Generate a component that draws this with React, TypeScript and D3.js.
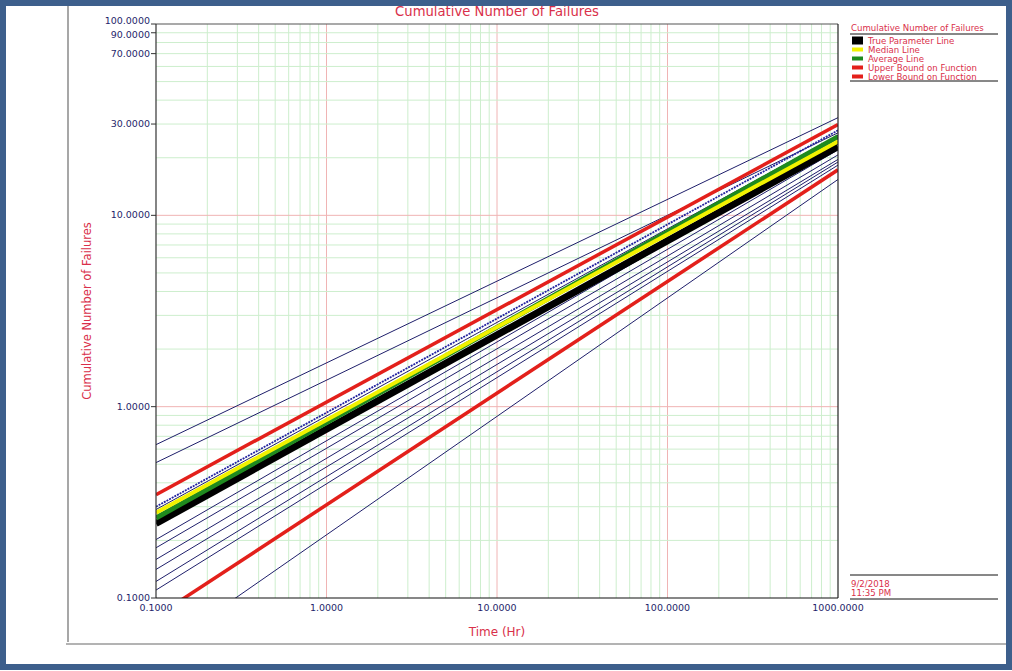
import React from 'react';
import * as d3 from 'd3';

// time (Hr) at the two ends of every fitted line
const timeEnds = [0.1, 1000];

// cumulative failures at t = 0.1 and t = 1000
const trueParameterLine = [0.245, 22.9];
const medianLine = [0.279, 24.3];
const averageLine = [0.262, 25.8];
const upperBound = [0.347, 29.8];
const lowerBound = [0.08, 17.3];

// simulated data sets (thin blue lines)
const simulatedLines = [
  [0.633, 32.4],
  [0.51, 27.0],
  [0.3, 27.8],
  [0.29, 26.2],
  [0.202, 23.5],
  [0.183, 22.0],
  [0.159, 20.7],
  [0.141, 19.6],
  [0.122, 19.0],
  [0.11, 18.3],
  [0.0514, 15.4],
];

const xTickValues = [0.1, 1, 10, 100, 1000];
const yTickValues = [0.1, 1, 10, 30, 70, 90, 100];

const legendLabels = [
  'True Parameter Line',
  'Median Line',
  'Average Line',
  'Upper Bound on Function',
  'Lower Bound on Function',
];
const legendColors = ['#000000', '#f2f200', '#1f8a1f', '#e3201b', '#e3201b'];

const W = 1012;
const H = 671;
const margin = { left: 156, right: 838, top: 24, bottom: 598 };
const font = '"DejaVu Sans", Verdana, sans-serif';
const red = '#d9304a';
const navy = '#1f1f6b';

export default function App() {
  const x = d3.scaleLog().domain([0.1, 1000]).range([margin.left, margin.right]);
  const y = d3.scaleLog().domain([0.1, 100]).range([margin.bottom, margin.top]);

  const line = d3
    .line<[number, number]>()
    .x(d => x(d[0]))
    .y(d => y(d[1]));
  const path = (vals: number[]) => line(timeEnds.map((t, i) => [t, vals[i]] as [number, number])) || '';

  // grid: all 1..9 multiples inside each decade
  const xGrid = x.ticks(50).filter(v => v > 0.1 && v < 1000);
  const yGrid = y.ticks(50).filter(v => v > 0.1 && v < 100);
  const isDecade = (v: number) => Math.abs(Math.log10(v) - Math.round(Math.log10(v))) < 1e-6;

  const thick = [
    { vals: upperBound, color: legendColors[3], w: 3.5 },
    { vals: lowerBound, color: legendColors[4], w: 3.5 },
    { vals: trueParameterLine, color: legendColors[0], w: 7 },
    { vals: averageLine, color: legendColors[2], w: 5 },
    { vals: medianLine, color: legendColors[1], w: 4 },
  ];

  // the 100 and 90 labels sit very close; nudge them apart like the original
  const labelShift = (v: number) => (v === 100 ? -3 : v === 90 ? 2 : 0);

  return (
    <svg
      width={W}
      height={H}
      style={{ position: 'absolute', left: 0, top: 0, background: '#fff' }}
      fontFamily={font}
    >
      <defs>
        <clipPath id="plot">
          <rect x={margin.left} y={margin.top} width={margin.right - margin.left} height={margin.bottom - margin.top} />
        </clipPath>
      </defs>

      {/* inner frame lines */}
      <line x1={68} x2={68} y1={6} y2={642} stroke="#8a8a8a" strokeWidth={1.5} />
      <line x1={66} x2={1006} y1={644} y2={644} stroke="#9a9a9a" strokeWidth={1.5} />

      {/* grid */}
      {xGrid.map(v => (
        <line key={'gx' + v} x1={x(v)} x2={x(v)} y1={margin.top} y2={margin.bottom}
          stroke={isDecade(v) ? '#f0b4b4' : '#cdeecd'} strokeWidth={1} />
      ))}
      {yGrid.map(v => (
        <line key={'gy' + v} x1={margin.left} x2={margin.right} y1={y(v)} y2={y(v)}
          stroke={isDecade(v) ? '#f0b4b4' : '#cdeecd'} strokeWidth={1} />
      ))}

      {/* lines */}
      <g clipPath="url(#plot)" fill="none" strokeLinecap="butt">
        {simulatedLines.map((vals, i) => (
          <path key={'s' + i} d={path(vals)} stroke={i === 2 ? '#2323a0' : navy} strokeWidth={i === 2 ? 1.8 : 1}
            strokeDasharray={i === 2 ? '2 1' : undefined} />
        ))}
        {thick.map((s, i) => (
          <path key={'t' + i} d={path(s.vals)} stroke={s.color} strokeWidth={s.w} />
        ))}
      </g>

      {/* plot frame */}
      <line x1={margin.left} x2={margin.right} y1={margin.top} y2={margin.top} stroke="#555" strokeWidth={1.2} />
      <line x1={margin.right} x2={margin.right} y1={margin.top} y2={margin.bottom} stroke="#222" strokeWidth={1.2} />
      <line x1={margin.left} x2={margin.left} y1={margin.top} y2={margin.bottom} stroke="#333" strokeWidth={1.2} />
      <line x1={margin.left} x2={margin.right} y1={margin.bottom} y2={margin.bottom} stroke="#111" strokeWidth={1.2} />

      {/* y ticks */}
      {yTickValues.map(v => (
        <g key={'yt' + v}>
          <line x1={margin.left - 5} x2={margin.left} y1={y(v)} y2={y(v)} stroke="#333" />
          <text x={margin.left - 6} y={y(v) + labelShift(v)} dy="0.32em" textAnchor="end" fontSize={9.5} fill={navy}>
            {v.toFixed(4)}
          </text>
        </g>
      ))}

      {/* x ticks */}
      {xTickValues.map(v => (
        <text key={'xt' + v} x={x(v)} y={margin.bottom + 13} textAnchor="middle" fontSize={9.5} fill={navy}>
          {v.toFixed(4)}
        </text>
      ))}

      {/* axis titles */}
      <text x={(margin.left + margin.right) / 2} y={636} textAnchor="middle" fontSize={12} fill={red}>
        Time (Hr)
      </text>
      <text transform={`translate(91,${(margin.top + margin.bottom) / 2}) rotate(-90)`} textAnchor="middle" fontSize={11.5} fill={red}>
        Cumulative Number of Failures
      </text>
      <text x={(margin.left + margin.right) / 2} y={16} textAnchor="middle" fontSize={13.2} fill={red}>
        Cumulative Number of Failures
      </text>

      {/* legend */}
      <text x={851} y={31} fontSize={8.6} fill={red}>Cumulative Number of Failures</text>
      <line x1={850} x2={998} y1={34} y2={34} stroke="#111" />
      {legendLabels.map((label, i) => {
        const cy = 40.5 + i * 9;
        const h = i === 0 ? 8 : 4;
        return (
          <g key={label}>
            <rect x={852} y={cy - h / 2} width={11} height={h} fill={legendColors[i]} />
            <text x={868} y={cy + 3.2} fontSize={8.6} fill={red}>{label}</text>
          </g>
        );
      })}
      <line x1={850} x2={998} y1={81} y2={81} stroke="#111" />

      {/* date stamp */}
      <line x1={850} x2={998} y1={575} y2={575} stroke="#111" />
      <text x={851} y={587} fontSize={8.6} fill={red}>9/2/2018</text>
      <text x={851} y={596} fontSize={8.6} fill={red}>11:35 PM</text>
      <line x1={850} x2={998} y1={599} y2={599} stroke="#111" />

      {/* outer blue frame */}
      <rect x={3} y={3} width={W - 6} height={H - 7} fill="none" stroke="#3d5f8c" strokeWidth={6} />
    </svg>
  );
}
